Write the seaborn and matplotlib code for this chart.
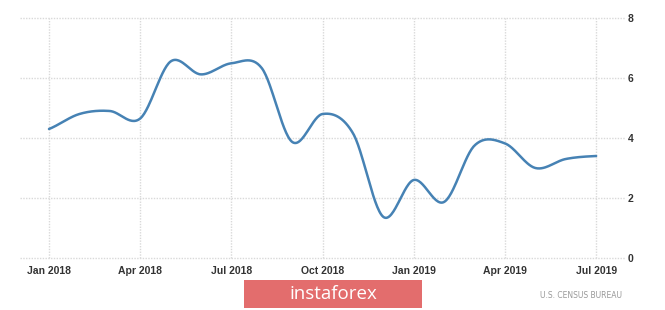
import numpy as np
import pandas as pd
import matplotlib
matplotlib.use("Agg")
import matplotlib.pyplot as plt
import seaborn as sns
from matplotlib.patches import Rectangle

months = ["Jan 2018", "Feb 2018", "Mar 2018", "Apr 2018", "May 2018", "Jun 2018",
          "Jul 2018", "Aug 2018", "Sep 2018", "Oct 2018", "Nov 2018", "Dec 2018",
          "Jan 2019", "Feb 2019", "Mar 2019", "Apr 2019", "May 2019", "Jun 2019",
          "Jul 2019"]
values = [4.3, 4.8, 4.9, 4.65, 6.55, 6.12, 6.49, 6.33, 3.87, 4.8, 4.16, 1.37,
          2.6, 1.87, 3.75, 3.82, 3.0, 3.3, 3.4]
tick_labels = ["Jan 2018", "Apr 2018", "Jul 2018", "Oct 2018", "Jan 2019", "Apr 2019", "Jul 2019"]
y_ticks = [0, 2, 4, 6, 8]

sns.set_style("white")
plt.rcParams['font.family'] = ['DejaVu Sans']

# smooth spline (Catmull-Rom style) through monthly points, for drawing only
x = np.arange(len(values), dtype=float)
y = np.array(values, dtype=float)
m = np.zeros_like(y)
m[1:-1] = (y[2:] - y[:-2]) / 2.0
m[0] = (y[1] - y[0]) * 0.8
m[-1] = (y[-1] - y[-2]) * 0.5
xs, ys = [], []
for i in range(len(x) - 1):
    t = np.linspace(0, 1, 30, endpoint=False)
    h00 = 2*t**3 - 3*t**2 + 1
    h10 = t**3 - 2*t**2 + t
    h01 = -2*t**3 + 3*t**2
    h11 = t**3 - t**2
    xs.extend(x[i] + t)
    ys.extend(h00*y[i] + h10*m[i] + h01*y[i+1] + h11*m[i+1])
xs.append(x[-1]); ys.append(y[-1])
df = pd.DataFrame({"x": xs, "y": ys})

fig = plt.figure(figsize=(6.65, 3.10), dpi=100)
ax = fig.add_axes([20/665, 52/310, 605/665, 240/310])

sns.lineplot(data=df, x="x", y="y", ax=ax, color="#4682b4", linewidth=1.8)

ax.set_xlim(-0.954, 18.95)
ax.set_ylim(0, 8)
tick_pos = [months.index(t) for t in tick_labels]
ax.set_xticks(tick_pos)
ax.set_xticklabels(tick_labels)
ax.set_yticks(y_ticks)
ax.yaxis.tick_right()
ax.set_xlabel("")
ax.set_ylabel("")
for s in ax.spines.values():
    s.set_visible(False)
ax.grid(True, color="#d9d9d9", linestyle=(0, (1, 1)), linewidth=1.0)
for gl in ax.get_ygridlines() + ax.get_xgridlines():
    gl.set_clip_on(False)
ax.set_axisbelow(True)
ax.tick_params(axis="both", length=0, labelsize=7.5, colors="#333333")
ax.tick_params(axis="x", pad=6)
ax.tick_params(axis="y", pad=2)
for lab in ax.get_xticklabels() + ax.get_yticklabels():
    lab.set_fontweight("bold")
    lab.set_fontfamily("Liberation Sans")
    lab.set_color("#333333")

# watermark
fig.patches.append(Rectangle((244/665, 2/310), 178/665, 28/310, transform=fig.transFigure,
                             facecolor="#e36d6d", edgecolor="none"))
fig.text(333/665, 16/310, "instaforex", ha="center", va="center", color="white",
         fontsize=13.5, family="Open Sans")
fig.text(622/665, 14/310, "U.S. CENSUS BUREAU", ha="right", va="center", color="#999999",
         fontsize=5.5)

fig.savefig("out.png", dpi=100)
